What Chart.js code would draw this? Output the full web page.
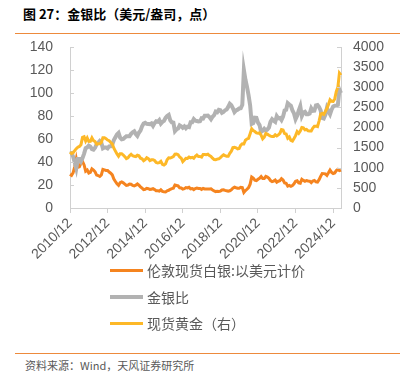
<!DOCTYPE html>
<html>
<head>
<meta charset="utf-8">
<script src="https://cdn.jsdelivr.net/npm/chart.js@4"></script>
<style>
  body { margin: 0; width: 408px; height: 373px; position: relative; background: #fff; overflow: hidden; }
  .abs { position: absolute; }
  #title { left: 23px; top: 7px; font: bold 13px/13px "Noto Sans CJK SC", sans-serif; color: #000; white-space: nowrap; }
  .rule { left: 15px; width: 385px; height: 1px; background: #ED8A3C; }
  #legend .row { position: absolute; left: 110px; height: 20px; display: flex; align-items: center; }
  #legend .swatch { width: 33px; margin-right: 4px; }
  #legend .txt { font: 14px/20px "Noto Sans CJK SC", sans-serif; color: #595959; white-space: nowrap; }
  #source { left: 25px; top: 359px; font: 11px/12px "Noto Sans CJK SC", sans-serif; color: #595959; white-space: nowrap; }
</style>
</head>
<body>
<div id="title" class="abs">图 27：金银比（美元/盎司，点）</div>
<div class="abs rule" style="top:33px"></div>
<div class="abs" style="left:0;top:0"><canvas id="chart" width="408" height="262"></canvas></div>
<div id="legend"></div>
<div class="abs rule" style="top:353px"></div>
<div id="source" class="abs">资料来源：Wind，天风证券研究所</div>
<script>
// monthly, 2010/12 .. 2025/05
const startYear = 2010, startMonth = 12;
const tickLabels = ['2010/12', '2012/12', '2014/12', '2016/12', '2018/12', '2020/12', '2022/12', '2024/12'];

// London spot silver, USD/oz (left axis)
const silver = [
  29.4,
  28.4, 30.7, 35.8, 42.7, 35.4, 35.8, 38.9, 40.5, 37.5, 32.0, 33.0, 30.4,
  31.0, 34.0, 33.0, 31.5, 28.6, 28.2, 27.4, 28.7, 33.6, 33.2, 32.7, 32.6,
  31.2, 30.3, 28.8, 25.2, 23.0, 21.0, 19.7, 22.0, 22.6, 21.9, 20.8, 19.6,
  19.9, 20.8, 20.7, 19.7, 19.3, 19.9, 20.9, 19.8, 18.4, 17.2, 16.0, 16.2,
  17.1, 16.8, 16.2, 16.3, 16.8, 16.0, 15.0, 14.9, 14.7, 15.8, 14.5, 14.1,
  14.0, 15.0, 15.4, 16.3, 16.9, 17.2, 20.0, 19.6, 19.2, 17.6, 17.4, 16.5,
  16.8, 17.8, 17.4, 18.0, 16.7, 16.9, 16.0, 16.9, 17.4, 17.0, 17.0, 16.2,
  17.1, 16.6, 16.5, 16.6, 16.5, 16.6, 15.6, 14.9, 14.3, 14.6, 14.3, 14.7,
  15.6, 15.8, 15.3, 15.0, 14.6, 15.0, 15.8, 17.3, 18.1, 17.6, 17.2, 17.1,
  18.0, 17.8, 13.5, 15.1, 16.3, 17.7, 20.7, 26.9, 26.0, 24.2, 23.8, 25.0,
  25.9, 27.3, 25.6, 25.6, 27.5, 26.9, 25.8, 23.8, 23.0, 23.4, 24.3, 22.4,
  23.3, 23.7, 25.5, 24.4, 21.8, 21.5, 19.0, 19.6, 18.9, 19.6, 21.0, 23.3,
  23.7, 21.9, 21.6, 25.0, 24.0, 23.2, 23.9, 23.5, 23.3, 22.1, 23.5, 24.0,
  22.8, 22.6, 24.6, 27.5, 30.0, 29.9, 29.6, 28.4, 30.6, 33.0, 31.0, 30.0,
  30.5, 32.5, 33.5, 32.5, 33.0
];

// gold / silver ratio (left axis)
const ratio = [
  47.3,
  47.7, 44.7, 39.8, 34.5, 42.7, 42.7, 40.4, 43.4, 47.3, 52.0, 52.7, 54.3,
  53.4, 51.2, 50.7, 52.4, 55.4, 56.6, 58.2, 56.8, 51.9, 52.6, 52.6, 51.8,
  53.6, 53.7, 55.3, 59.0, 61.5, 64.0, 65.3, 61.2, 59.7, 60.1, 61.3, 62.5,
  62.5, 62.5, 64.5, 65.9, 66.7, 64.3, 62.7, 65.5, 67.3, 71.0, 73.5, 74.1,
  73.2, 73.0, 72.8, 73.5, 71.4, 73.8, 75.4, 75.0, 76.5, 73.4, 74.9, 75.7,
  78.4, 80.0, 80.9, 76.2, 74.5, 74.2, 66.9, 68.4, 69.1, 71.9, 71.1, 69.8,
  71.0, 69.3, 70.7, 70.4, 74.6, 74.6, 77.3, 75.9, 75.6, 75.2, 75.4, 78.1,
  77.8, 80.2, 80.3, 80.4, 79.0, 77.2, 79.4, 80.7, 83.8, 83.2, 85.4, 85.0,
  82.8, 83.5, 85.0, 85.7, 87.9, 90.6, 89.4, 86.7, 83.4, 84.9, 85.5, 86.5,
  86.7, 89.7, 120.0, 111.5, 105.3, 97.9, 89.2, 73.2, 73.9, 78.5, 78.4, 74.3,
  72.1, 66.2, 67.1, 68.8, 67.3, 68.2, 70.0, 75.0, 77.2, 75.9, 74.9, 79.9,
  78.0, 78.3, 76.4, 79.4, 84.8, 85.4, 91.2, 90.0, 88.9, 84.9, 82.2, 77.2,
  80.1, 84.7, 88.5, 80.0, 83.0, 83.7, 81.6, 81.6, 82.2, 86.7, 84.5, 84.6,
  89.2, 89.5, 87.8, 84.8, 78.3, 77.8, 81.0, 87.0, 84.0, 81.5, 85.5, 88.3,
  88.9, 89.0, 89.6, 103.0, 100.0
];

// spot gold, USD/oz (right axis)
const gold = [
  1391,
  1356, 1372, 1424, 1474, 1512, 1529, 1573, 1756, 1772, 1665, 1739, 1652,
  1656, 1742, 1674, 1650, 1585, 1596, 1594, 1630, 1745, 1747, 1721, 1688,
  1671, 1627, 1593, 1487, 1414, 1343, 1286, 1347, 1349, 1316, 1275, 1225,
  1244, 1300, 1336, 1299, 1287, 1279, 1311, 1296, 1238, 1222, 1176, 1201,
  1251, 1227, 1179, 1198, 1199, 1181, 1131, 1117, 1125, 1159, 1086, 1068,
  1097, 1200, 1246, 1242, 1259, 1276, 1337, 1341, 1326, 1266, 1238, 1152,
  1192, 1234, 1231, 1267, 1246, 1260, 1237, 1283, 1315, 1279, 1282, 1265,
  1331, 1331, 1325, 1335, 1303, 1282, 1238, 1202, 1199, 1215, 1221, 1250,
  1291, 1320, 1300, 1285, 1284, 1359, 1413, 1500, 1510, 1495, 1471, 1480,
  1560, 1597, 1591, 1683, 1716, 1732, 1847, 1968, 1921, 1900, 1866, 1858,
  1867, 1808, 1718, 1760, 1850, 1834, 1807, 1785, 1775, 1777, 1821, 1790,
  1817, 1856, 1948, 1937, 1849, 1837, 1732, 1764, 1681, 1664, 1726, 1798,
  1898, 1855, 1912, 2000, 1992, 1942, 1951, 1918, 1916, 1916, 1986, 2030,
  2033, 2023, 2159, 2331, 2348, 2326, 2398, 2470, 2571, 2690, 2651, 2648,
  2710, 2894, 3000, 3350, 3300
];

const seriesNames = ['伦敦现货白银:以美元计价', '金银比', '现货黄金（右）'];
const seriesColors = ['#F5841F', '#B2B2B2', '#FDB827'];
const seriesWidths = [3, 4, 3];

// month labels
const months = [];
for (let i = 0; i < silver.length; i++) {
  const m = (startMonth - 1 + i) % 12 + 1;
  const y = startYear + Math.floor((startMonth - 1 + i) / 12);
  months.push(y + '/' + String(m).padStart(2, '0'));
}

const tickFont = { family: '"Liberation Sans", Arial, sans-serif', size: 14 };
const axisColor = '#D0D0D0';

// small inward tick marks on both value axes
const innerTicks = {
  id: 'innerTicks',
  afterDraw(chart) {
    const ctx = chart.ctx;
    ctx.save();
    ctx.strokeStyle = axisColor;
    ctx.lineWidth = 1;
    [['y', 1], ['y1', -1]].forEach(([id, dir]) => {
      const s = chart.scales[id];
      const x0 = dir > 0 ? s.right : s.left;
      s.ticks.forEach((t, i) => {
        const py = Math.round(s.getPixelForTick(i)) + 0.5;
        ctx.beginPath();
        ctx.moveTo(x0, py);
        ctx.lineTo(x0 + dir * 4, py);
        ctx.stroke();
      });
    });
    ctx.restore();
  }
};

const chart = new Chart(document.getElementById('chart'), {
  type: 'line',
  data: {
    labels: months,
    datasets: [
      { label: seriesNames[0], data: silver, yAxisID: 'y', order: 2 },
      { label: seriesNames[1], data: ratio, yAxisID: 'y', order: 1 },
      { label: seriesNames[2], data: gold, yAxisID: 'y1', order: 0 }
    ].map((d, i) => Object.assign(d, {
      borderColor: seriesColors[i],
      borderWidth: seriesWidths[i],
      pointRadius: 0,
      tension: 0,
      fill: false
    }))
  },
  options: {
    responsive: false,
    animation: false,
    layout: { padding: { left: 0, right: 0, top: 47, bottom: 0 } },
    plugins: { legend: { display: false }, tooltip: { enabled: false } },
    scales: {
      x: {
        offset: false,
        afterFit: s => { s.height = 54; },
        border: { display: true, color: axisColor },
        grid: {
          drawOnChartArea: false,
          drawTicks: true,
          tickLength: 5,
          color: c => (tickLabels.includes(months[c.index]) ? axisColor : 'rgba(0,0,0,0)')
        },
        ticks: {
          autoSkip: false,
          maxRotation: 45,
          minRotation: 45,
          padding: 2,
          color: '#595959',
          font: tickFont,
          callback: (v, i) => (tickLabels.includes(months[i]) ? months[i] : '')
        }
      },
      y: {
        position: 'left',
        min: 0, max: 140,
        afterFit: s => { s.width = 70; },
        border: { display: true, color: axisColor },
        grid: { drawOnChartArea: false, drawTicks: false },
        ticks: { stepSize: 20, padding: 17, color: '#595959', font: tickFont, callback: v => String(v) }
      },
      y1: {
        position: 'right',
        min: 0, max: 4000,
        afterFit: s => { s.width = 67; },
        border: { display: true, color: axisColor },
        grid: { drawOnChartArea: false, drawTicks: false },
        ticks: { stepSize: 500, padding: 12, color: '#595959', font: tickFont, callback: v => String(v) }
      }
    }
  },
  plugins: [innerTicks]
});

// legend below the chart, one series per row
const legend = document.getElementById('legend');
const rowCenters = [270, 297, 323];
seriesNames.forEach((name, i) => {
  const row = document.createElement('div');
  row.className = 'row';
  row.style.top = (rowCenters[i] - 10) + 'px';
  row.innerHTML = '<div class="swatch" style="height:' + seriesWidths[i] + 'px;background:' +
    seriesColors[i] + '"></div><span class="txt">' + name + '</span>';
  legend.appendChild(row);
});
</script>
</body>
</html>
